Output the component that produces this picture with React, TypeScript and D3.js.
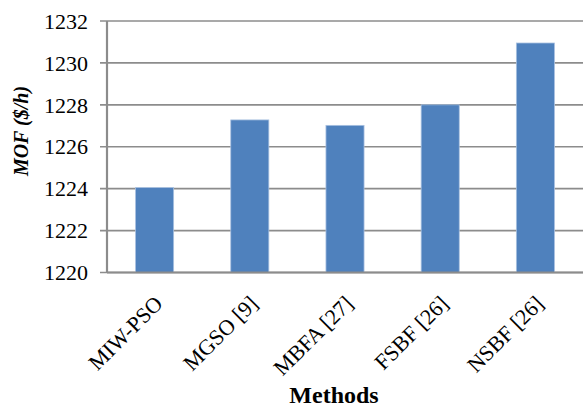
import { useEffect, useRef } from "react";
import * as d3 from "d3";

const methods = ["MIW-PSO", "MGSO [9]", "MBFA [27]", "FSBF [26]", "NSBF [26]"];
const mofValues = [1224.05, 1227.28, 1227.02, 1228.0, 1230.95];
const yTicks = [1220, 1222, 1224, 1226, 1228, 1230, 1232];

const W = 583;
const H = 407;

export default function App() {
  const svgRef = useRef<SVGSVGElement | null>(null);

  useEffect(() => {
    if (!svgRef.current) return;
    const svg = d3.select(svgRef.current);
    svg.selectAll("*").remove();

    const left = 107;
    const right = 583;
    const top = 21;
    const bottom = 272.5;
    const font = "'Liberation Serif', 'Times New Roman', Tinos, 'DejaVu Serif', serif";

    const x = d3.scaleBand().domain(methods).range([left, right]).paddingInner(0.6).paddingOuter(0.3);
    const y = d3.scaleLinear().domain([1220, 1232]).range([bottom, top]);

    // gridlines
    svg
      .append("g")
      .selectAll("line")
      .data(yTicks)
      .enter()
      .append("line")
      .attr("x1", left - 7)
      .attr("x2", right)
      .attr("y1", (d) => y(d))
      .attr("y2", (d) => y(d))
      .attr("stroke", "#8c8c8c")
      .attr("stroke-width", 1.6);

    // y labels
    svg
      .append("g")
      .selectAll("text")
      .data(yTicks)
      .enter()
      .append("text")
      .attr("x", 88)
      .attr("y", (d) => y(d))
      .attr("dy", "0.35em")
      .attr("text-anchor", "end")
      .style("font-family", font)
      .style("font-size", "22px")
      .attr("fill", "#000")
      .text((d) => d);

    // bars
    svg
      .append("g")
      .selectAll("rect")
      .data(methods)
      .enter()
      .append("rect")
      .attr("x", (d) => x(d)!)
      .attr("width", x.bandwidth())
      .attr("y", (_d, i) => y(mofValues[i]))
      .attr("height", (_d, i) => bottom - y(mofValues[i]))
      .attr("fill", "#4f81bd")
      .attr("stroke", "#a8c0e0")
      .attr("stroke-width", 0.8);

    // axis lines
    svg
      .append("line")
      .attr("x1", left)
      .attr("x2", left)
      .attr("y1", top)
      .attr("y2", bottom)
      .attr("stroke", "#8c8c8c")
      .attr("stroke-width", 2.2);
    svg
      .append("line")
      .attr("x1", left)
      .attr("x2", right)
      .attr("y1", bottom)
      .attr("y2", bottom)
      .attr("stroke", "#8c8c8c")
      .attr("stroke-width", 1.8);

    // category labels
    svg
      .append("g")
      .selectAll("text")
      .data(methods)
      .enter()
      .append("text")
      .attr("transform", (d) => `translate(${x(d)! + x.bandwidth() / 2 + 4},${bottom + 27}) rotate(-45)`)
      .attr("text-anchor", "end")
      .attr("dy", "0.35em")
      .style("font-family", font)
      .style("font-size", "22px")
      .attr("fill", "#000")
      .text((d) => d);

    // axis titles
    svg
      .append("text")
      .attr("x", 334)
      .attr("y", 403)
      .attr("text-anchor", "middle")
      .style("font-family", font)
      .style("font-weight", "bold")
      .style("font-size", "24px")
      .text("Methods");

    svg
      .append("text")
      .attr("transform", `translate(28,131) rotate(-90)`)
      .attr("text-anchor", "middle")
      .style("font-family", font)
      .style("font-weight", "bold")
      .style("font-style", "italic")
      .style("font-size", "20px")
      .text("MOF ($/h)");
  }, []);

  return (
    <svg
      ref={svgRef}
      width={W}
      height={H}
      style={{ position: "absolute", left: 0, top: 0, background: "#fff" }}
    />
  );
}
